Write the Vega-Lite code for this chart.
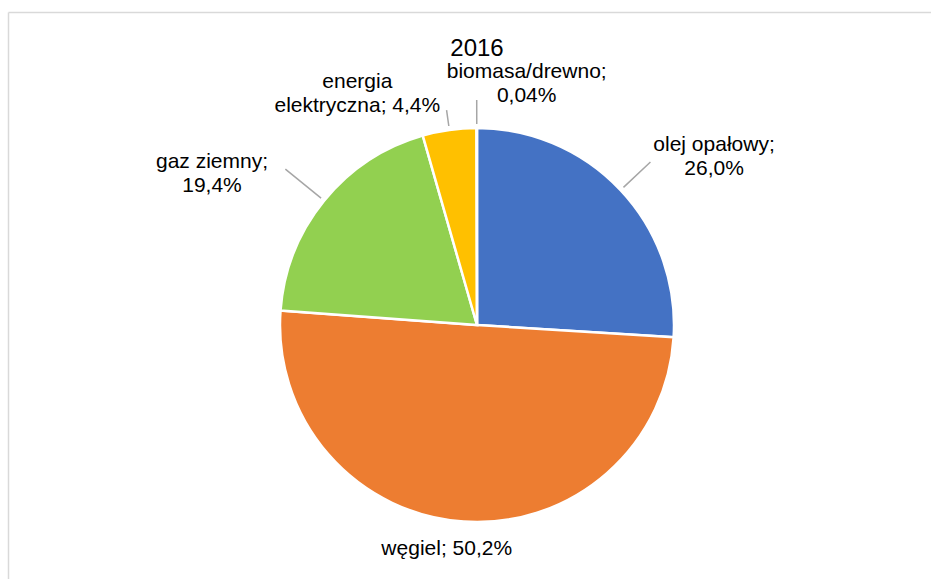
{
  "$schema": "https://vega.github.io/schema/vega-lite/v6.json",
  "autosize": "none",
  "width": 908,
  "height": 508,
  "padding": {"left": 23, "top": 71, "right": 0, "bottom": 0},
  "background": "white",
  "title": {"text": "2016", "fontSize": 24, "font": "Liberation Sans", "fontWeight": "normal", "color": "#000000", "anchor": "middle", "offset": -49},
  "config": {"view": {"stroke": null}, "text": {"font": "Liberation Sans"}},
  "data": {"values": [
    {"kategoria": "olej opałowy", "udzial": 26.0, "etykieta": "olej opałowy;\n26,0%"},
    {"kategoria": "węgiel", "udzial": 50.2, "etykieta": "węgiel; 50,2%"},
    {"kategoria": "gaz ziemny", "udzial": 19.4, "etykieta": "gaz ziemny;\n19,4%"},
    {"kategoria": "energia elektryczna", "udzial": 4.4, "etykieta": "energia\nelektryczna; 4,4%"},
    {"kategoria": "biomasa/drewno", "udzial": 0.04, "etykieta": "biomasa/drewno;\n0,04%"}
  ]},
  "transform": [{"window": [{"op": "row_number", "as": "nr"}]}],
  "layer": [
    {
      "mark": {"type": "point", "opacity": 0},
      "encoding": {
        "x": {"field": "udzial", "type": "quantitative", "scale": {"range": [-15, 908]}, "axis": {"orient": "top", "offset": 59, "domainColor": "#d9d9d9", "domainWidth": 1.5, "ticks": false, "labels": false, "grid": false, "title": null}},
        "y": {"field": "udzial", "type": "quantitative", "scale": {"range": [508, -59]}, "axis": {"orient": "left", "offset": 15, "domainColor": "#d9d9d9", "domainWidth": 1.5, "ticks": false, "labels": false, "grid": false, "title": null}}
      }
    },
    {
      "mark": {"type": "arc", "outerRadius": 197, "stroke": "white", "strokeWidth": 2.5},
      "encoding": {
        "theta": {"field": "udzial", "type": "quantitative", "stack": true},
        "order": {"field": "nr", "type": "quantitative"},
        "color": {"field": "kategoria", "type": "nominal", "legend": null,
          "scale": {"domain": ["olej opałowy", "węgiel", "gaz ziemny", "energia elektryczna", "biomasa/drewno"],
                    "range": ["#4472C4", "#ED7D31", "#92D050", "#FFC000", "#A5A5A5"]}}
      }
    },
    {
      "mark": {"type": "arc", "radius": 238, "radius2": 201, "padAngle": 3, "fill": null, "stroke": "#a6a6a6", "strokeWidth": 1.5},
      "encoding": {
        "theta": {"field": "udzial", "type": "quantitative", "stack": true},
        "order": {"field": "nr", "type": "quantitative"},
        "strokeOpacity": {"condition": {"test": "datum.kategoria === 'olej opałowy'", "value": 1}, "value": 0}
      }
    },
    {
      "mark": {"type": "arc", "radius": 247, "radius2": 201, "padAngle": 3, "fill": null, "stroke": "#a6a6a6", "strokeWidth": 1.5},
      "encoding": {
        "theta": {"field": "udzial", "type": "quantitative", "stack": true},
        "order": {"field": "nr", "type": "quantitative"},
        "strokeOpacity": {"condition": {"test": "datum.kategoria === 'gaz ziemny'", "value": 1}, "value": 0}
      }
    },
    {
      "mark": {"type": "arc", "radius": 217, "radius2": 201, "padAngle": 3, "fill": null, "stroke": "#a6a6a6", "strokeWidth": 1.5},
      "encoding": {
        "theta": {"field": "udzial", "type": "quantitative", "stack": true},
        "order": {"field": "nr", "type": "quantitative"},
        "strokeOpacity": {"condition": {"test": "datum.kategoria === 'energia elektryczna'", "value": 1}, "value": 0}
      }
    },
    {
      "mark": {"type": "arc", "radius": 225, "radius2": 201, "padAngle": 3, "fill": null, "stroke": "#a6a6a6", "strokeWidth": 1.5},
      "encoding": {
        "theta": {"field": "udzial", "type": "quantitative", "stack": true},
        "order": {"field": "nr", "type": "quantitative"},
        "strokeOpacity": {"condition": {"test": "datum.kategoria === 'biomasa/drewno'", "value": 1}, "value": 0}
      }
    },
    {
      "mark": {"type": "text", "radius": 280, "dx": 33, "dy": 12, "fontSize": 21, "lineHeight": 24, "lineBreak": "\n", "align": "center", "baseline": "middle", "color": "#000000"},
      "encoding": {"theta": {"field": "udzial", "type": "quantitative", "stack": true}, "order": {"field": "nr", "type": "quantitative"},
        "text": {"condition": {"test": "datum.kategoria === 'olej opałowy'", "field": "etykieta"}, "value": ""}}
    },
    {
      "mark": {"type": "text", "radius": 225, "dx": -15, "dy": 0, "fontSize": 21, "lineHeight": 24, "lineBreak": "\n", "align": "center", "baseline": "middle", "color": "#000000"},
      "encoding": {"theta": {"field": "udzial", "type": "quantitative", "stack": true}, "order": {"field": "nr", "type": "quantitative"},
        "text": {"condition": {"test": "datum.kategoria === 'węgiel'", "field": "etykieta"}, "value": ""}}
    },
    {
      "mark": {"type": "text", "radius": 290, "dx": -40, "dy": 20, "fontSize": 21, "lineHeight": 24, "lineBreak": "\n", "align": "center", "baseline": "middle", "color": "#000000"},
      "encoding": {"theta": {"field": "udzial", "type": "quantitative", "stack": true}, "order": {"field": "nr", "type": "quantitative"},
        "text": {"condition": {"test": "datum.kategoria === 'gaz ziemny'", "field": "etykieta"}, "value": ""}}
    },
    {
      "mark": {"type": "text", "radius": 240, "dx": -86, "dy": -5, "fontSize": 21, "lineHeight": 24, "lineBreak": "\n", "align": "center", "baseline": "middle", "color": "#000000"},
      "encoding": {"theta": {"field": "udzial", "type": "quantitative", "stack": true}, "order": {"field": "nr", "type": "quantitative"},
        "text": {"condition": {"test": "datum.kategoria === 'energia elektryczna'", "field": "etykieta"}, "value": ""}}
    },
    {
      "mark": {"type": "text", "radius": 243, "dx": 50, "dy": -10, "fontSize": 21, "lineHeight": 24, "lineBreak": "\n", "align": "center", "baseline": "middle", "color": "#000000"},
      "encoding": {"theta": {"field": "udzial", "type": "quantitative", "stack": true}, "order": {"field": "nr", "type": "quantitative"},
        "text": {"condition": {"test": "datum.kategoria === 'biomasa/drewno'", "field": "etykieta"}, "value": ""}}
    }
  ]
}
